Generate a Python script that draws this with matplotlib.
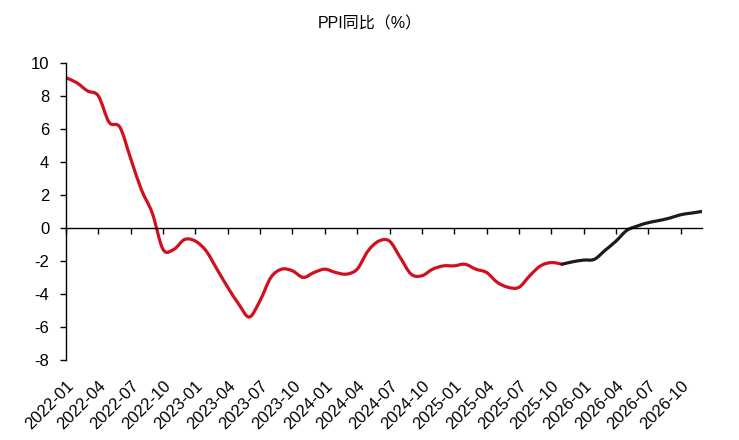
import matplotlib
matplotlib.use('Agg')
import matplotlib.pyplot as plt
from matplotlib.path import Path
from matplotlib.patches import PathPatch
import numpy as np

plt.rcParams['font.family'] = ['Liberation Sans', 'Noto Sans CJK SC', 'DejaVu Sans']
plt.rcParams['axes.unicode_minus'] = False

# monthly labels 2022-01 .. 2026-12
months = [f'{y}-{m:02d}' for y in range(2022, 2027) for m in range(1, 13)]

# actual PPI yoy, 2022-01 .. 2025-11
actual = [9.1, 8.8, 8.3, 8.0, 6.4, 6.1, 4.2, 2.3, 0.9, -1.3, -1.3, -0.7,
          -0.8, -1.4, -2.5, -3.6, -4.6, -5.4, -4.4, -3.0, -2.5, -2.6, -3.0, -2.7,
          -2.5, -2.7, -2.8, -2.5, -1.4, -0.8, -0.8, -1.8, -2.8, -2.9, -2.5, -2.3,
          -2.3, -2.2, -2.5, -2.7, -3.3, -3.6, -3.6, -2.9, -2.3, -2.1, -2.2]
# forecast, 2025-11 .. 2026-12
forecast = [-2.2, -2.05, -1.95, -1.9, -1.35, -0.8, -0.15, 0.12, 0.32, 0.45,
            0.6, 0.8, 0.9, 1.0]

tick_labels = months[::3]


def smooth_path(xs, ys):
    # Bezier path through every point (Excel-style smoothed line)
    p = np.column_stack([xs, ys]).astype(float)
    n = len(p)
    verts = [p[0]]
    codes = [Path.MOVETO]
    for i in range(n - 1):
        p0 = p[i - 1] if i > 0 else p[i]
        p3 = p[i + 2] if i + 2 < n else p[i + 1]
        c1 = p[i] + (p[i + 1] - p0) / 6
        c2 = p[i + 1] - (p3 - p[i]) / 6
        verts += [c1, c2, p[i + 1]]
        codes += [Path.CURVE4] * 3
    return Path(verts, codes)


fig = plt.figure(figsize=(7.39, 4.40), dpi=100)
ax = fig.add_axes([0.0893, 0.182, 0.861, 0.675])

x_act = np.arange(len(actual))
x_fc = np.arange(len(actual) - 1, len(actual) - 1 + len(forecast))
ax.add_patch(PathPatch(smooth_path(x_act, actual), fill=False,
                       edgecolor='#D0101E', linewidth=2.3, capstyle='round', joinstyle='round'))
ax.add_patch(PathPatch(smooth_path(x_fc, forecast), fill=False,
                       edgecolor='#1C1C1C', linewidth=2.3, capstyle='round', joinstyle='round'))

ax.set_xlim(0, len(months) - 1)
ax.set_ylim(-8, 10)
ax.set_yticks(range(-8, 11, 2))
ax.tick_params(axis='y', labelsize=12, length=4, width=1, direction='out', pad=8)

# x axis line sits at zero, labels stay at the bottom
ax.spines['top'].set_visible(False)
ax.spines['right'].set_visible(False)
ax.spines['bottom'].set_position(('data', 0))
ax.spines['bottom'].set_linewidth(1)
ax.spines['left'].set_linewidth(1)
ax.set_xticks(range(0, len(months), 3))
ax.tick_params(axis='x', length=4, width=1, direction='out', labelbottom=False)

sec = ax.secondary_xaxis('bottom')
sec.set_xticks(range(0, len(months), 3))
sec.set_xticklabels(tick_labels, rotation=45, ha='right', rotation_mode='anchor', fontsize=12)
sec.tick_params(length=0, pad=13)
sec.spines['bottom'].set_visible(False)

fig.text(0.5, 0.945, 'PPI同比（%）', ha='center', va='center', fontsize=11.5)

plt.savefig('out.png', dpi=100)
plt.close()
